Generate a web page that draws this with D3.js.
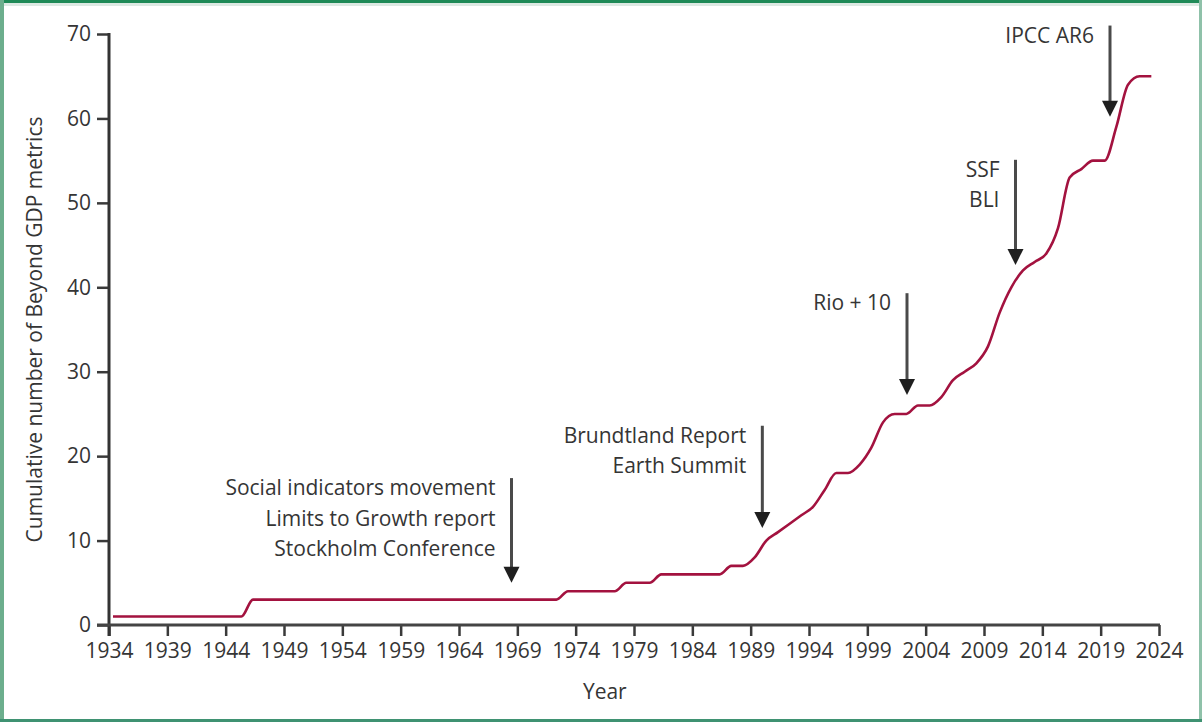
<!DOCTYPE html>
<html>
<head>
<meta charset="utf-8">
<script src="https://cdn.jsdelivr.net/npm/d3@7"></script>
<style>
  html, body { margin: 0; padding: 0; background: #fff; }
  svg { display: block; }
  text { font-family: "Open Sans", "Noto Sans", sans-serif; fill: #353535; }
</style>
</head>
<body>
<div id="chart"></div>
<script>
// cumulative number of Beyond GDP metrics, one value per year 1934-2023
var years = [];
for (var y = 1934; y <= 2023; y++) years.push(y);

var counts = [
  1, 1, 1, 1, 1, 1, 1, 1, 1, 1, 1, 1,             // 1934-1945
  3, 3, 3, 3, 3, 3, 3, 3, 3, 3, 3, 3, 3, 3,       // 1946-1959
  3, 3, 3, 3, 3, 3, 3, 3, 3, 3, 3, 3, 3,          // 1960-1972
  4, 4, 4, 4, 4,                                  // 1973-1977
  5, 5, 5,                                        // 1978-1980
  6, 6, 6, 6, 6, 6,                               // 1981-1986
  7, 7, 8, 10, 11, 12, 13, 14, 16, 18,            // 1987-1996
  18, 19, 21, 24, 25, 25, 26, 26, 27, 29,         // 1997-2006
  30, 31, 33, 37, 40, 42, 43, 44, 47, 53,         // 2007-2016
  54, 55, 55, 59, 64, 65, 65                      // 2017-2023
];

var x_ticks = [1934, 1939, 1944, 1949, 1954, 1959, 1964, 1969, 1974, 1979,
               1984, 1989, 1994, 1999, 2004, 2009, 2014, 2019, 2024];
var y_ticks = [0, 10, 20, 30, 40, 50, 60, 70];

// annotation arrows: label lines, year of the arrow, top and tip values
var event_labels = [
  ['Social indicators movement', 'Limits to Growth report', 'Stockholm Conference'],
  ['Brundtland Report', 'Earth Summit'],
  ['Rio + 10'],
  ['SSF', 'BLI'],
  ['IPCC AR6']
];
var event_years = [1968.5, 1990, 2002.4, 2011.7, 2019.8];
var event_tops = [17.4, 23.6, 39.3, 55.1, 71];
var event_tips = [5.0, 11.5, 27.25, 42.65, 60.2];

var data = years.map((d, i) => ({year: d, value: counts[i]}));

// layout
chart_width = 1202;
chart_height = 722;
var plot_left = 109, plot_right = 1159, plot_top = 34, plot_bottom = 625;
var line_shift = 4;
var font_size = 21;

var svg = d3.select('#chart')
  .append('svg')
  .attr('width', chart_width)
  .attr('height', chart_height);

// green frame
svg.append('rect').attr('x', 0).attr('y', 3).attr('width', chart_width).attr('height', 3).attr('fill', '#dde9e3');
svg.append('rect').attr('x', 0).attr('y', 0).attr('width', chart_width).attr('height', 3).attr('fill', '#1f8a57');
svg.append('rect').attr('x', 0).attr('y', 0).attr('width', 4).attr('height', chart_height).attr('fill', '#6cae8d');
svg.append('rect').attr('x', chart_width - 3).attr('y', 0).attr('width', 3).attr('height', chart_height).attr('fill', '#8fc1a9');
svg.append('rect').attr('x', 0).attr('y', chart_height - 3).attr('width', chart_width).attr('height', 3).attr('fill', '#3f9272');

// scales
var x_scale = d3.scaleLinear().domain([1934, 2024]).range([plot_left, plot_right]);
var y_scale = d3.scaleLinear().domain([0, 70]).range([plot_bottom, plot_top]);

// y axis
var y_axis = svg.append('g')
  .attr('transform', 'translate(' + plot_left + ',0)')
  .call(d3.axisLeft(y_scale).tickValues(y_ticks).tickSize(12).tickPadding(6));
y_axis.select('.domain').remove();
y_axis.selectAll('.tick line').attr('stroke', '#3a3a3a').attr('stroke-width', 2.5);
y_axis.selectAll('.tick text').attr('font-size', font_size).attr('fill', '#353535')
  .style('font-family', '"Open Sans", sans-serif');

// x axis
var x_axis = svg.append('g')
  .attr('transform', 'translate(0,' + plot_bottom + ')')
  .call(d3.axisBottom(x_scale).tickValues(x_ticks).tickFormat(d3.format('d')).tickSize(11).tickPadding(7));
x_axis.select('.domain').remove();
x_axis.selectAll('.tick line').attr('stroke', '#3a3a3a').attr('stroke-width', 2.5);
x_axis.selectAll('.tick text').attr('font-size', font_size).attr('fill', '#353535')
  .style('font-family', '"Open Sans", sans-serif');

// axis lines
svg.append('line')
  .attr('x1', plot_left).attr('x2', plot_left)
  .attr('y1', y_scale(70) - 1).attr('y2', plot_bottom + 11)
  .attr('stroke', '#333').attr('stroke-width', 3);
svg.append('line')
  .attr('x1', plot_left - 12).attr('x2', plot_right + 1)
  .attr('y1', plot_bottom).attr('y2', plot_bottom)
  .attr('stroke', '#444').attr('stroke-width', 3);

// axis titles
svg.append('text')
  .attr('x', x_scale(1976.5))
  .attr('y', 699)
  .attr('text-anchor', 'middle')
  .attr('font-size', font_size)
  .text('Year');

svg.append('text')
  .attr('transform', 'translate(42,' + y_scale(35) + ') rotate(-90)')
  .attr('text-anchor', 'middle')
  .attr('font-size', font_size)
  .text('Cumulative number of Beyond GDP metrics');

// the line
var line = d3.line()
  .x((d) => x_scale(d.year))
  .y((d) => y_scale(d.value))
  .curve(d3.curveMonotoneX);

svg.append('path')
  .datum(data)
  .attr('transform', 'translate(' + line_shift + ',0)')
  .attr('d', line)
  .attr('fill', 'none')
  .attr('stroke', '#a3123f')
  .attr('stroke-width', 2.6)
  .attr('stroke-linejoin', 'round');

// annotation arrows
var events = svg.selectAll('g.event')
  .data(event_labels.map((d, i) => ({lines: d, year: event_years[i], top: event_tops[i], tip: event_tips[i]})))
  .enter()
  .append('g')
  .attr('class', 'event');

events.append('line')
  .attr('x1', (d) => x_scale(d.year))
  .attr('x2', (d) => x_scale(d.year))
  .attr('y1', (d) => y_scale(d.top))
  .attr('y2', (d) => y_scale(d.tip) - 10)
  .attr('stroke', '#4a4a4a')
  .attr('stroke-width', 3);

events.append('path')
  .attr('d', function(d) {
    var cx = x_scale(d.year), ty = y_scale(d.tip);
    return 'M' + (cx - 8) + ',' + (ty - 16) + 'L' + (cx + 8) + ',' + (ty - 16) + 'L' + cx + ',' + ty + 'Z';
  })
  .attr('fill', '#1f1f1f');

events.each(function(d) {
  var g = d3.select(this);
  d.lines.forEach(function(t, i) {
    g.append('text')
      .attr('x', x_scale(d.year) - 16)
      .attr('y', y_scale(d.top) + 17 + i * 30.5)
      .attr('text-anchor', 'end')
      .attr('font-size', font_size)
      .text(t);
  });
});
</script>
</body>
</html>
